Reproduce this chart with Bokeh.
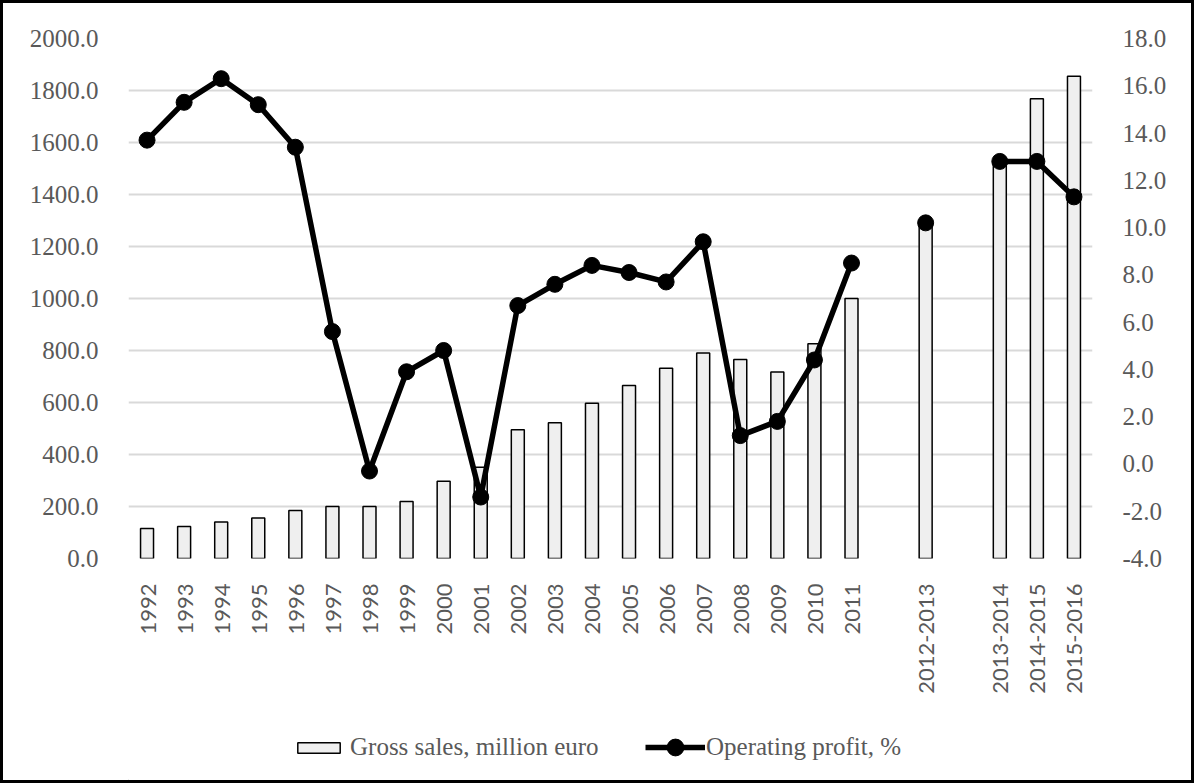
import math
from bokeh.plotting import figure
from bokeh.layouts import column
from bokeh.models import (FactorRange, Range1d, LinearAxis, FixedTicker,
                          PrintfTickFormatter, Legend, LegendItem, ColumnDataSource)
from bokeh.embed import file_html
from bokeh.resources import INLINE

nan = float("nan")

categories = ["1992", "1993", "1994", "1995", "1996", "1997", "1998", "1999",
              "2000", "2001", "2002", "2003", "2004", "2005", "2006", "2007",
              "2008", "2009", "2010", "2011", " ", "2012-2013", "  ",
              "2013-2014", "2014-2015", "2015-2016"]
gross_sales = [115, 123, 140, 156, 185, 200, 200, 219, 297, 351, 495, 522,
               597, 665, 732, 790, 765, 717, 826, 1000, nan, 1290, nan,
               1530, 1768, 1855]
operating_profit = [13.7, 15.3, 16.3, 15.2, 13.4, 5.6, -0.3, 3.9, 4.8, -1.4,
                    6.7, 7.6, 8.4, 8.1, 7.7, 9.4, 1.2, 1.8, 4.4, 8.5, nan,
                    10.2, nan, 12.8, 12.8, 11.3]
left_ticks = [0, 200, 400, 600, 800, 1000, 1200, 1400, 1600, 1800, 2000]
right_ticks = [-4, -2, 0, 2, 4, 6, 8, 10, 12, 14, 16, 18]

src = ColumnDataSource(dict(cat=categories, sales=gross_sales, profit=operating_profit))

SERIF = "Liberation Serif"
SANS = "Lato"
GREY = "#595959"
B = 3  # outer border thickness
W = 1194 - 2 * B
H_MAIN = 700
H_LEG = 783 - 2 * B - H_MAIN

BAR_STYLE = dict(fill_color="#efefef", line_color="black", line_width=1.5)
LINE_STYLE = dict(line_color="black", line_width=5.5)
DOT_STYLE = dict(size=16, fill_color="black", line_color="black")

p = figure(width=W, height=H_MAIN, output_backend="svg", toolbar_location=None,
           x_range=FactorRange(factors=categories, range_padding=0),
           y_range=Range1d(0, 2000),
           min_border_left=128 - B, min_border_right=102 - B,
           min_border_top=38 - B, min_border_bottom=H_MAIN - (558 - B))
p.extra_y_ranges = {"right": Range1d(-4, 18)}
p.outline_line_color = None
p.background_fill_color = "white"
p.border_fill_color = "white"

p.vbar(x="cat", top="sales", bottom=0, width=0.35, source=src, **BAR_STYLE)
p.line(x="cat", y="profit", source=src, y_range_name="right", **LINE_STYLE)
p.scatter(x="cat", y="profit", source=src, y_range_name="right", **DOT_STYLE)

p.yaxis.ticker = FixedTicker(ticks=left_ticks)
p.yaxis.formatter = PrintfTickFormatter(format="%.1f")
ra = LinearAxis(y_range_name="right", ticker=FixedTicker(ticks=right_ticks),
                formatter=PrintfTickFormatter(format="%.1f"))
p.add_layout(ra, "right")

for ax in [p.yaxis[0], ra]:
    ax.axis_line_color = None
    ax.major_tick_line_color = None
    ax.minor_tick_line_color = None
    ax.major_label_text_font = SERIF
    ax.major_label_text_font_size = "25px"
    ax.major_label_text_color = GREY
    ax.major_label_standoff = 24

xa = p.xaxis[0]
xa.axis_line_color = None
xa.major_tick_line_color = None
xa.minor_tick_line_color = None
xa.major_label_orientation = math.pi / 2
xa.major_label_text_font = SANS
xa.major_label_text_font_size = "22px"
xa.major_label_text_color = GREY
xa.major_label_standoff = 19

p.xgrid.grid_line_color = None
p.ygrid.grid_line_color = "#d9d9d9"
p.ygrid.grid_line_width = 2

# legend strip
lg = figure(width=W, height=H_LEG, output_backend="svg", toolbar_location=None,
            x_range=Range1d(0, 1), y_range=Range1d(0, 1),
            min_border=0, min_border_left=0, min_border_right=0,
            min_border_top=0, min_border_bottom=0)
lg.axis.visible = False
lg.grid.visible = False
lg.outline_line_color = None
lg.border_fill_color = "white"
offscreen = ColumnDataSource(dict(x=[-10], y=[-10]))
rb = lg.vbar(x="x", top="y", width=0.1, source=offscreen, **BAR_STYLE)
rl = lg.line(x="x", y="y", source=offscreen, **LINE_STYLE)
rd = lg.scatter(x="x", y="y", source=offscreen, **DOT_STYLE)


def make_legend(items, loc, gw, gh, standoff):
    leg = Legend(items=items, orientation="horizontal", location=loc)
    leg.label_text_font = SERIF
    leg.label_text_font_size = "25px"
    leg.label_text_color = GREY
    leg.border_line_color = None
    leg.background_fill_alpha = 0
    leg.glyph_width = gw
    leg.glyph_height = gh
    leg.label_standoff = standoff
    leg.padding = 0
    leg.margin = 0
    lg.add_layout(leg, "center")


make_legend([LegendItem(label="Gross sales, million euro", renderers=[rb])],
            (164, 19), 53, 13, 5)
make_legend([LegendItem(label="Operating profit, %", renderers=[rl, rd])],
            (517, 12), 60, 42, 1)

layout = column(p, lg, spacing=0, styles={"border": f"{B}px solid black"})
open("out.html", "w").write(file_html(layout, INLINE))
